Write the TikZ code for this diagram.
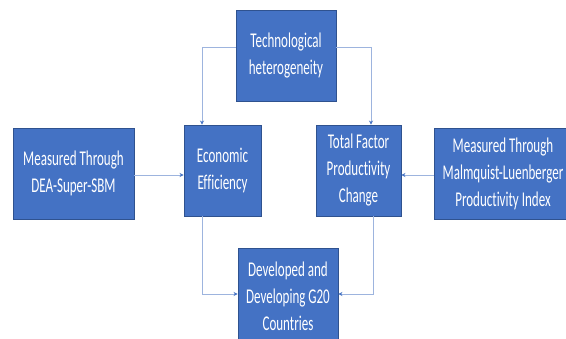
\documentclass[tikz,border=0pt]{standalone}
\usepackage{fontspec}
\setmainfont[FakeStretch=0.62, Ligatures=NoCommon]{Carlito}
\usetikzlibrary{arrows.meta}
\definecolor{boxfill}{HTML}{4472C4}
\definecolor{boxline}{HTML}{2F528F}
\definecolor{linkline}{HTML}{9DB4DE}
\definecolor{tipcol}{HTML}{4472C4}
\begin{document}
\begin{tikzpicture}[x=1pt,y=1pt,
  blockbox/.style={draw=boxline, line width=0.9pt, fill=boxfill, text=white,
    align=center, inner sep=0pt, font=\fontsize{21}{27}\selectfont},
  link/.style={draw=linkline, line width=0.9pt,
    -{Stealth[length=4pt,width=4pt,color=tipcol]}}]
  \useasboundingbox (0,0) rectangle (566,-338);
  \clip (0,0) rectangle (566,-338);
  \fill[white] (0,0) rectangle (566,-338);

  % blocks
  \node[blockbox, minimum width=100pt, minimum height=91pt] (tech) at (286,-55.5)
    {Technological\\heterogeneity};
  \node[blockbox, minimum width=77pt, minimum height=91pt] (econ) at (222.5,-170.5)
    {Economic\\Efficiency};
  \node[blockbox, minimum width=85pt, minimum height=91pt] (tfp) at (358.5,-170.5)
    {Total Factor\\Productivity\\Change};
  \node[blockbox, minimum width=121pt, minimum height=91pt] (dea) at (73.5,-173.5)
    {Measured Through\\DEA-Super-SBM};
  \node[blockbox, minimum width=138pt, minimum height=91pt] (malm) at (503,-173.5)
    {Measured Through\\Malmquist-Luenberger\\Productivity Index};
  \node[blockbox, minimum width=100pt, minimum height=96pt] (g20) at (288,-296)
    {Developed and\\Developing G20\\Countries};

  % connectors
  \draw[link] ([yshift=8.5pt]tech.west) -| ([xshift=-20.5pt]econ.north);
  \draw[link] ([yshift=8.5pt]tech.east) -| ([xshift=12.5pt]tfp.north);
  \draw[link] ([yshift=-1.5pt]dea.east) -- ([yshift=-4.5pt]econ.west);
  \draw[link] ([yshift=-1.5pt]malm.west) -- ([yshift=-4.5pt]tfp.east);
  \draw[link] ([xshift=-20.5pt]econ.south) |- ([yshift=2pt]g20.west);
  \draw[link] ([xshift=14.5pt]tfp.south) |- ([yshift=2pt]g20.east);
\end{tikzpicture}
\end{document}
